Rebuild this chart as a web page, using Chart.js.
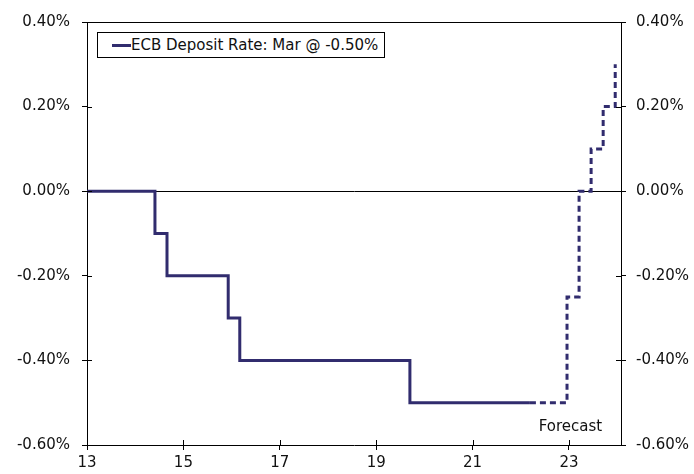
<!DOCTYPE html>
<html>
<head>
<meta charset="utf-8">
<script src="https://cdn.jsdelivr.net/npm/chart.js@4/dist/chart.umd.min.js"></script>
<style>
  html, body { margin: 0; padding: 0; background: #fff; }
  #wrap { position: relative; width: 694px; height: 474px; }
  #legend {
    position: absolute; left: 97px; top: 32px; width: 288px; height: 26px;
    border: 1px solid #000; background: #fff; box-sizing: border-box;
    font-family: "DejaVu Sans", Verdana, sans-serif; font-size: 15px; color: #111;
    display: flex; align-items: center;
  }
  #legend .sw { display: inline-block; width: 19px; height: 3px; background: #312c6e; margin-left: 14px; }
</style>
</head>
<body>
<div id="wrap">
  <canvas id="c" width="694" height="474"></canvas>
  <div id="legend"><span class="sw"></span><span>ECB Deposit Rate: Mar @ -0.50%</span></div>
</div>
<script>
// Data (year as decimal, rate in %)
const histDates = [13, 14.41, 14.66, 15.93, 16.17, 19.70, 22.19];
const histRates = [0.00, -0.10, -0.20, -0.30, -0.40, -0.50, -0.50];
const fcDates = [22.19, 22.96, 23.21, 23.46, 23.71, 23.96];
const fcRates = [-0.50, -0.25, 0.00, 0.10, 0.20, 0.30];
const xTicks = [13, 15, 17, 19, 21, 23];
const yTicks = [-0.60, -0.40, -0.20, 0.00, 0.20, 0.40];
const seriesLabel = 'ECB Deposit Rate: Mar @ -0.50%';
const forecastLabel = 'Forecast';

const FONT = '"DejaVu Sans", Verdana, sans-serif';
const LINE = '#312c6e';

const toPts = (xs, ys) => xs.map((x, i) => ({ x: x, y: ys[i] }));

const frame = {
  id: 'frame',
  afterDatasetsDraw(chart) {
    const { ctx, chartArea: a, scales } = chart;
    ctx.save();
    ctx.strokeStyle = '#000';
    ctx.lineWidth = 1;
    ctx.beginPath();
    ctx.moveTo(a.left, a.top + 0.5);
    ctx.lineTo(a.right, a.top + 0.5);
    ctx.stroke();
    // inner halves of crossing ticks
    ctx.beginPath();
    xTicks.forEach(v => {
      const px = Math.round(scales.x.getPixelForValue(v)) + 0.5;
      ctx.moveTo(px, a.bottom); ctx.lineTo(px, a.bottom - 5);
    });
    yTicks.forEach(v => {
      const py = Math.round(scales.y.getPixelForValue(v)) + 0.5;
      ctx.moveTo(a.left, py); ctx.lineTo(a.left + 5, py);
      ctx.moveTo(a.right, py); ctx.lineTo(a.right - 5, py);
    });
    ctx.stroke();
    // forecast label
    ctx.fillStyle = '#111';
    ctx.font = '15px ' + FONT;
    ctx.textAlign = 'center';
    ctx.textBaseline = 'middle';
    ctx.fillText(forecastLabel, scales.x.getPixelForValue(23.03), scales.y.getPixelForValue(-0.558));
    ctx.restore();
  }
};

const yTickCfg = (pad) => ({
  min: -0.6, max: 0.4,
  afterBuildTicks: s => { s.ticks = yTicks.map(v => ({ value: v })); },
  ticks: { color: '#111', font: { family: FONT, size: 15 }, padding: pad,
           callback: v => v.toFixed(2) + '%' },
  border: { display: true, color: '#000', width: 1 },
});

new Chart(document.getElementById('c'), {
  type: 'line',
  data: {
    datasets: [
      { label: seriesLabel, data: toPts(histDates, histRates), stepped: true,
        borderColor: LINE, borderWidth: 3, pointRadius: 0, fill: false },
      { label: 'Forecast', data: toPts(fcDates, fcRates), stepped: true,
        borderColor: LINE, borderWidth: 3, borderDash: [6, 4], pointRadius: 0, fill: false }
    ]
  },
  plugins: [frame],
  options: {
    responsive: false,
    animation: false,
    layout: { padding: { top: 22, left: 0, right: 0, bottom: 0 } },
    plugins: { legend: { display: false }, tooltip: { enabled: false } },
    scales: {
      x: {
        type: 'linear', min: 13, max: 24.08,
        afterBuildTicks: s => { s.ticks = xTicks.map(v => ({ value: v })); },
        afterFit: s => { s.height = 29; },
        ticks: { color: '#111', font: { family: FONT, size: 15 }, padding: 4,
                 callback: v => String(v), maxRotation: 0 },
        grid: { drawOnChartArea: false, drawTicks: true, tickLength: 5, tickColor: '#000' },
        border: { display: true, color: '#000', width: 1 }
      },
      y: Object.assign(yTickCfg(12), {
        position: 'left',
        afterFit: s => { s.width = 87; },
        grid: { drawOnChartArea: true, drawTicks: true, tickLength: 5, tickColor: '#000',
                color: c => (c.tick && c.tick.value === 0) ? '#000' : 'rgba(0,0,0,0)', lineWidth: 1 }
      }),
      y2: Object.assign(yTickCfg(10), {
        position: 'right',
        afterFit: s => { s.width = 73; },
        grid: { drawOnChartArea: false, drawTicks: true, tickLength: 5, tickColor: '#000' }
      })
    }
  }
});
</script>
</body>
</html>
